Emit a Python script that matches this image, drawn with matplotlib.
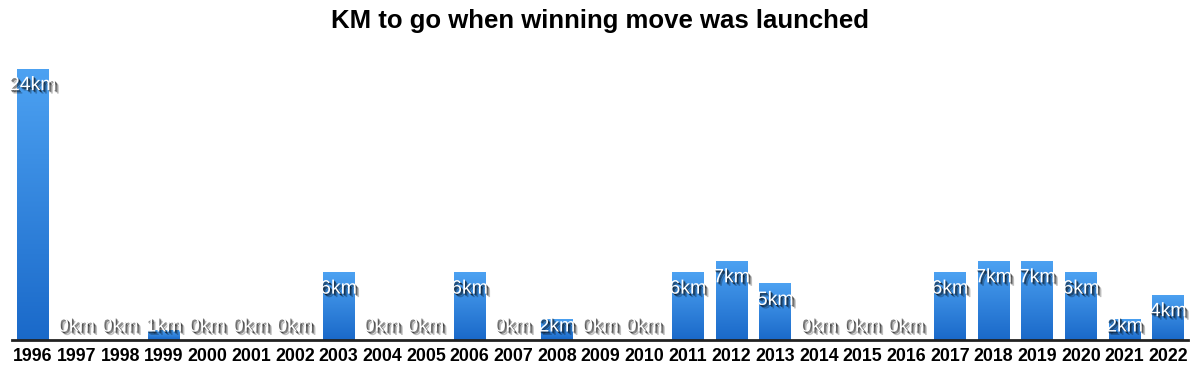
import numpy as np
import matplotlib
matplotlib.use("Agg")
import matplotlib.pyplot as plt
import matplotlib.patheffects as pe
from matplotlib.colors import LinearSegmentedColormap

years = [1996, 1997, 1998, 1999, 2000, 2001, 2002, 2003, 2004, 2005, 2006, 2007, 2008,
         2009, 2010, 2011, 2012, 2013, 2014, 2015, 2016, 2017, 2018, 2019, 2020, 2021, 2022]
km_to_go = [24, 0, 0, 0.9, 0, 0, 0, 6, 0, 0, 6, 0, 1.9, 0, 0, 6, 7, 5, 0, 0, 0, 6, 7, 7, 6, 1.9, 4]
labels = ["24km", "0km", "0km", "1km", "0km", "0km", "0km", "6km", "0km", "0km", "6km", "0km",
          "2km", "0km", "0km", "6km", "7km", "5km", "0km", "0km", "0km", "6km", "7km", "7km",
          "6km", "2km", "4km"]

plt.rcParams['font.family'] = ['Liberation Sans', 'DejaVu Sans']

fig = plt.figure(figsize=(12, 3.75), dpi=100)
ax = fig.add_axes([0.01, 0.0933, 0.98, 0.814])

x = np.arange(len(years))
width = 0.73
bars = ax.bar(x, km_to_go, width=width, color='none', edgecolor='none')

# gradient fill per bar: light on top, darker at the bottom
cmap = LinearSegmentedColormap.from_list('bar', ['#1a69c9', '#4da2f2'])
grad = np.linspace(0, 1, 256).reshape(-1, 1)
for b in bars:
    h = b.get_height()
    if h <= 0:
        continue
    x0 = b.get_x()
    im = ax.imshow(grad, cmap=cmap, origin='lower', aspect='auto',
                   extent=[x0, x0 + b.get_width(), 0, h], zorder=2)
    im.set_clip_path(b)

# value labels, white with a soft dark shadow
shadow = [pe.SimplePatchShadow(offset=(2.5, -2.5), shadow_rgbFace='black', alpha=0.25),
          pe.SimplePatchShadow(offset=(1.5, -1.5), shadow_rgbFace='black', alpha=0.45),
          pe.SimplePatchShadow(offset=(0.8, -0.8), shadow_rgbFace='black', alpha=0.45),
          pe.Normal()]
for xi, v, lab in zip(x, km_to_go, labels):
    y = max(v - 1.5, 1.15)
    ax.text(xi, y, lab, ha='center', va='center', color='white', fontsize=14,
            zorder=5, path_effects=shadow)

ax.set_xlim(-0.48, len(years) - 0.55)
ax.set_ylim(0, 27)
ax.set_xticks(x)
ax.set_xticklabels([str(yv) for yv in years], fontsize=12.8, fontweight='bold')
ax.tick_params(axis='x', length=0, pad=6)
ax.set_yticks([])
for s in ['top', 'right', 'left']:
    ax.spines[s].set_visible(False)
ax.spines['bottom'].set_linewidth(2)
ax.spines['bottom'].set_color('#222222')
ax.spines['bottom'].set_zorder(6)

fig.suptitle("KM to go when winning move was launched", fontsize=18.5, fontweight='bold', y=0.975)

fig.savefig("out.png", dpi=100)
